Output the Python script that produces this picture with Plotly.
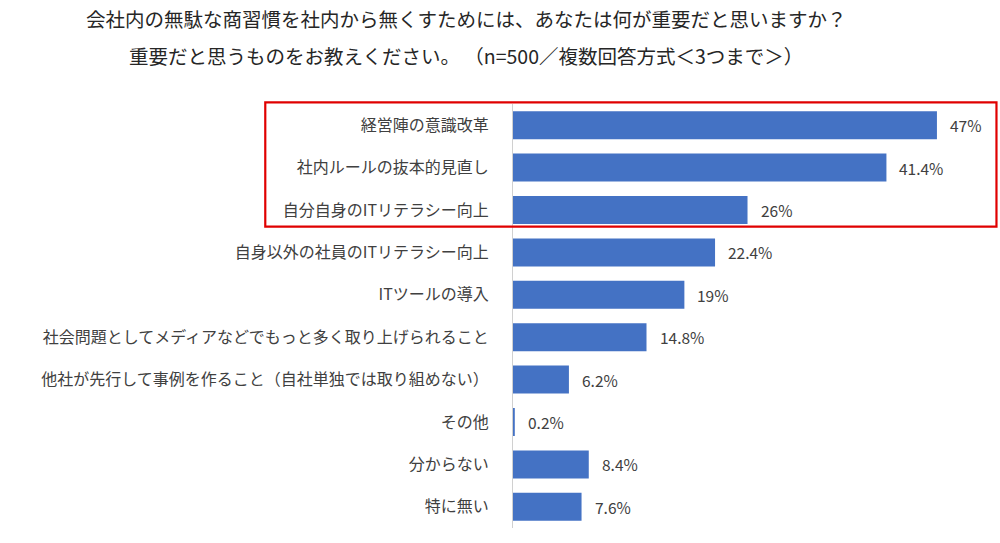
import plotly.graph_objects as go

categories = [
    "経営陣の意識改革",
    "社内ルールの抜本的見直し",
    "自分自身のITリテラシー向上",
    "自身以外の社員のITリテラシー向上",
    "ITツールの導入",
    "社会問題としてメディアなどでもっと多く取り上げられること",
    "他社が先行して事例を作ること（自社単独では取り組めない）",
    "その他",
    "分からない",
    "特に無い",
]
values = [47, 41.4, 26, 22.4, 19, 14.8, 6.2, 0.2, 8.4, 7.6]
value_labels = ["47%", "41.4%", "26%", "22.4%", "19%", "14.8%", "6.2%", "0.2%", "8.4%", "7.6%"]
title_line1 = "会社内の無駄な商習慣を社内から無くすためには、あなたは何が重要だと思いますか？"
title_line2 = "重要だと思うものをお教えください。 （n=500／複数回答方式＜3つまで＞）"

FONT = "Noto Sans CJK JP"
W, H = 1000, 543
# plot area in page pixels
PX0, PX1, PY0, PY1 = 513, 964.5, 104, 528
L, R, T, B = PX0, W - PX1, PY0, H - PY1
pw, ph = PX1 - PX0, PY1 - PY0

def px_x(x):
    return (x - PX0) / pw

def px_y(y):
    return (PY1 - y) / ph

fig = go.Figure()
fig.add_trace(go.Bar(
    x=values,
    y=categories,
    orientation="h",
    marker=dict(color="#4472C4", line=dict(width=0)),
    hoverinfo="skip",
))

for v, c, t in zip(values, categories, value_labels):
    fig.add_annotation(
        x=v, y=c, text=t, showarrow=False, xanchor="left", xshift=11,
        font=dict(family=FONT, size=15.5, color="#404040"),
    )

fig.add_annotation(
    xref="paper", yref="paper", x=px_x(466.5), y=px_y(18.5), text=title_line1,
    showarrow=False, xanchor="center", yanchor="middle",
    font=dict(family=FONT, size=19.5, color="#262626"),
)
fig.add_annotation(
    xref="paper", yref="paper", x=px_x(466), y=px_y(55.5), text=title_line2,
    showarrow=False, xanchor="center", yanchor="middle",
    font=dict(family=FONT, size=19.5, color="#262626"),
)

fig.add_shape(
    type="rect", xref="paper", yref="paper",
    x0=px_x(265), x1=px_x(997), y0=px_y(226.7), y1=px_y(102.3),
    line=dict(color="#E00000", width=2.2), fillcolor="rgba(0,0,0,0)",
)

fig.update_layout(
    width=W, height=H,
    margin=dict(l=L, r=R, t=T, b=B, pad=0),
    paper_bgcolor="white", plot_bgcolor="white",
    bargap=0.34,
    showlegend=False,
    xaxis=dict(range=[0, 50], showgrid=False, zeroline=False, showticklabels=False,
               showline=False, ticks=""),
    yaxis=dict(autorange="reversed", showgrid=False, zeroline=False,
               showline=True, linecolor="#D0D0D0", linewidth=1,
               ticks="", ticklabelstandoff=20,
               tickfont=dict(family=FONT, size=16, color="#404040")),
)

fig.write_html(
    "out.html",
    config={"displayModeBar": False, "staticPlot": True},
    post_script="document.body.style.margin='0';document.body.style.overflow='hidden';",
)
